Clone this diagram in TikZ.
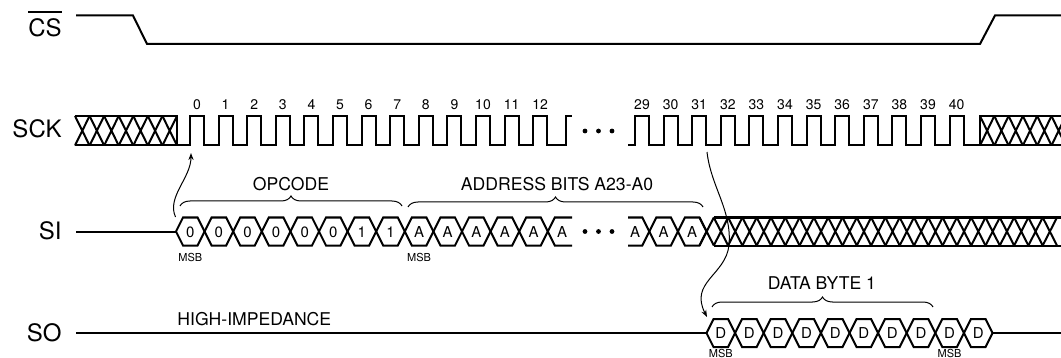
\documentclass[tikz,border=0pt]{standalone}
\usepackage{fontspec}
\setmainfont{TeX Gyre Heros}
\usetikzlibrary{arrows.meta, decorations.pathreplacing}

\newcommand\barred[1]{\vbox{\hrule height 0.8pt\kern 3pt\hbox{#1}}}

\begin{document}
\begin{tikzpicture}[
  x=0.5pt, y=-0.5pt,
  sig/.style={line width=1pt},
  signame/.style={anchor=base east, inner sep=0pt, font=\fontsize{12}{14}\selectfont},
  num/.style={inner sep=0pt, font=\fontsize{7}{8}\selectfont},
  bit/.style={inner sep=0pt, font=\fontsize{7.5}{9}\selectfont},
  msb/.style={inner sep=0pt, font=\fontsize{5.5}{6}\selectfont},
  txt/.style={inner sep=0pt, font=\fontsize{8.8}{10}\selectfont},
  brc/.style={decorate, decoration={brace, amplitude=5pt}, line width=0.5pt},
  arr/.style={-{Stealth[length=3.5pt, width=2.6pt]}, line width=0.5pt}
]
  \clip (0,0) rectangle (1061,358);

  % signal names
  \node[signame] (cs)  at (62,37)  {\barred{CS}};
  \node[signame] (sck) at (62,138) {SCK};
  \node[signame] (si)  at (62,239) {SI};
  \node[signame] (so)  at (62,341) {SO};

  % chip select
  \draw[sig] (76,15.5) -- (133,15.5) -- (147,44) -- (980,44) -- (995,15.5) -- (1061,15.5);

  % clock: don't care, pulses 0..13, pulses 29..40, don't care
  \draw[sig] (75,116) -- (177,116) -- (177,145.5) -- (75,145.5);
  \foreach \k in {0,...,6}
    \draw[sig] ({75+14.57*\k},116) -- ({75+14.57*(\k+1)},145.5)
               ({75+14.57*\k},145.5) -- ({75+14.57*(\k+1)},116);
  \draw[sig] (177,145.5)
    \foreach \k in {0,...,12} { -- ({190+28.6*\k},145.5) -- ++(0,-29.5) -- ++(14,0) -- ++(0,29.5) }
    -- (565.8,145.5) -- (565.8,116) -- (572,116);
  \draw[sig] (628,145.5)
    \foreach \k in {0,...,11} { -- ({635+28.6*\k},145.5) -- ++(0,-29.5) -- ++(14,0) -- ++(0,29.5) }
    -- (980,145.5);
  \draw[sig] (1061,116) -- (980,116) -- (980,145.5) -- (1061,145.5);
  \foreach \k in {0,...,5}
    \draw[sig] ({980+14.3*\k},116) -- ({980+14.3*(\k+1)},145.5)
               ({980+14.3*\k},145.5) -- ({980+14.3*(\k+1)},116);
  \foreach \k in {0,...,12}
    \node[num] (n\k) at ({197+28.6*\k},105) {\k};
  \foreach \k in {29,...,40}
    \node[num] (n\k) at ({642+28.6*(\k-29)},105) {\k};

  % serial in
  \draw[sig] (76,231.5) -- (176,231.5);
  \foreach \v [count=\i from 0] in {0,0,0,0,0,0,1,1,A,A,A,A,A} {
    \draw[sig] ({176+28.6*\i},231.5) -- ++(7,-14) -- ++(14.6,0) -- ++(7,14)
               -- ++(-7,14) -- ++(-14.6,0) -- cycle;
    \node[bit] (si\i) at ({190.3+28.6*\i},232) {\v};
  }
  \draw[sig] (572,217.5) -- (554.8,217.5) -- (547.8,231.5) -- (554.8,245.5) -- (572,245.5);
  \node[bit] (si13) at (562.1,232) {A};
  \draw[sig] (628,217.5) -- (642.3,217.5) -- (649.3,231.5) -- (642.3,245.5) -- (628,245.5);
  \node[bit] (si29) at (635,232) {A};
  \foreach \i in {30,31} {
    \draw[sig] ({649.3+28.6*(\i-30)},231.5) -- ++(7,-14) -- ++(14.6,0) -- ++(7,14)
               -- ++(-7,14) -- ++(-14.6,0) -- cycle;
    \node[bit] (si\i) at ({663.6+28.6*(\i-30)},232) {A};
  }
  \draw[sig] (713.5,217.5) -- (1061,217.5) (713.5,245.5) -- (1061,245.5);
  \foreach \k in {0,...,24}
    \draw[sig] ({699.5+14.3*\k},217.5) -- ({713.8+14.3*\k},245.5)
               ({699.5+14.3*\k},245.5) -- ({713.8+14.3*\k},217.5);
  \foreach \x in {585,598.5,612} {
    \fill (\x,131) circle (1.2pt);
    \fill (\x,231.5) circle (1.2pt);
  }

  % serial out
  \draw[sig] (76,333) -- (706.5,333) (992.5,333) -- (1061,333);
  \foreach \i in {0,...,9} {
    \draw[sig] ({706.5+28.6*\i},333) -- ++(7,-14) -- ++(14.6,0) -- ++(7,14)
               -- ++(-7,14) -- ++(-14.6,0) -- cycle;
    \node[bit] (so\i) at ({720.8+28.6*\i},333.5) {D};
  }
  \node[txt, anchor=west] (hiz) at (177,319) {HIGH-IMPEDANCE};

  % MSB marks
  \node[msb] (msb1) at (190.3,257) {MSB};
  \node[msb] (msb2) at (419.1,257) {MSB};
  \node[msb] (msb3) at (720.8,353) {MSB};
  \node[msb] (msb4) at (949.6,353) {MSB};

  % field braces
  \draw[brc] (180,206) -- (402,206);
  \draw[brc] (408,207) -- (703,207);
  \draw[brc] (712,307) -- (933,307);
  \node[txt] (opc)  at (291,184) {OPCODE};
  \node[txt] (addr) at (557,184) {ADDRESS BITS A23-A0};
  \node[txt] (data) at (822,283) {DATA BYTE 1};

  % timing arrows
  \coordinate (sckA) at (191,153);
  \coordinate (siA)  at (175.5,217);
  \coordinate (sckB) at (707,152);
  \coordinate (soA)  at (707,317);
  \draw[arr] (siA) .. controls +(-9,-20) and +(0,25) .. (sckA);
  \draw[arr] (sckB) .. controls +(4,35) and +(3,-35) .. (729,245)
             .. controls +(-3,30) and +(-18,-35) .. (soA);
\end{tikzpicture}
\end{document}
